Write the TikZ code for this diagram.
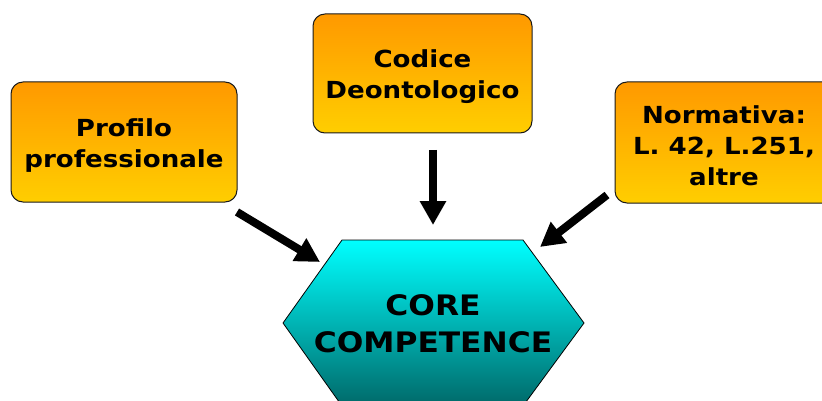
\documentclass[tikz,border=0pt]{standalone}
\usepackage{fontspec}
\usetikzlibrary{arrows.meta}
\newfontfamily\labelfont{DejaVu Sans}[FakeStretch=1.11]
\definecolor{boxtop}{RGB}{255,153,0}
\definecolor{boxbottom}{RGB}{255,206,0}
\definecolor{hextop}{RGB}{0,255,255}
\definecolor{hexbottom}{RGB}{0,105,105}
\tikzset{
  infobox/.style={draw=black!90, line width=1pt, rounded corners=12pt,
    top color=boxtop, bottom color=boxbottom, inner sep=0pt},
  boxtext/.style={align=center, inner sep=0pt,
    font=\labelfont\bfseries\fontsize{23.5}{31}\selectfont},
  hexlabel/.style={align=center, inner sep=0pt,
    font=\labelfont\bfseries\fontsize{28.2}{37}\selectfont},
  bigarrow/.style={line width=8pt, -{Triangle[width=25pt,length=24pt]}},
}
\begin{document}
\begin{tikzpicture}[x=1pt, y=-1pt]
  \useasboundingbox (0,0) rectangle (822,401);

  % hexagon at the centre
  \path[draw=black, line width=0.8pt, top color=hextop, bottom color=hexbottom]
    (342,240) -- (523,240) -- (584,323) -- (523,406) -- (342,406) -- (283,323) -- cycle;
  \node[hexlabel] (core) at (433,324) {CORE\\COMPETENCE};

  % the three sources
  \node[infobox, minimum width=226pt, minimum height=120pt] (profilo) at (124,142) {};
  \node[boxtext] (profilotxt) at ([yshift=-4pt]profilo.center) {Profilo\\professionale};
  \node[infobox, minimum width=219pt, minimum height=119pt] (codice) at (422.5,73.5) {};
  \node[boxtext] (codicetxt) at ([yshift=-3pt]codice.center) {Codice\\Deontologico};
  \node[infobox, minimum width=226pt, minimum height=121pt] (norm) at (728,142.5) {};
  \node[boxtext] (normtxt) at ([xshift=-4pt,yshift=-3pt]norm.center) {Normativa:\\L. 42, L.251,\\altre};

  % arrow ends
  \coordinate (p0) at (237,212);
  \coordinate (p1) at (320,262);
  \coordinate (c0) at (433,150);
  \coordinate (c1) at (433,225);
  \coordinate (n0) at (607,195);
  \coordinate (n1) at (540,247);

  \draw[bigarrow] (p0) -- (p1);
  \draw[bigarrow] (c0) -- (c1);
  \draw[bigarrow] (n0) -- (n1);
\end{tikzpicture}
\end{document}
